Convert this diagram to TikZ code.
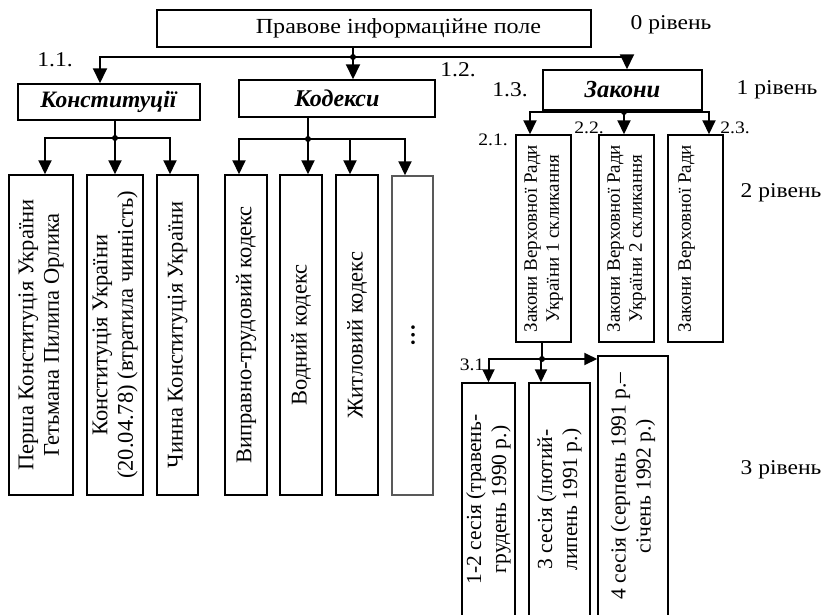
\documentclass[tikz,border=0pt]{standalone}
\usepackage{fontspec}
\setmainfont{Liberation Serif}
\newfontfamily\widefont[FakeStretch=1.12]{Liberation Serif}
\usetikzlibrary{arrows.meta,calc}
\begin{document}
\begin{tikzpicture}[x=1pt,y=-1pt,
  font=\fontsize{22.5}{25.5}\selectfont,
  box/.style={draw, line width=1.5pt, inner sep=0pt, align=center},
  vbox/.style={box, rotate=90},
  hfont/.style={font=\widefont\fontsize{21.5}{24}\selectfont},
  zfont/.style={font=\fontsize{19}{22}\selectfont},
  sfont/.style={font=\fontsize{21.5}{25}\selectfont},
  conn/.style={line width=2pt},
  arrA/.style={conn, -{Triangle[width=14pt,length=15pt]}},
  arrB/.style={conn, -{Triangle[width=13pt,length=14pt]}},
  arrC/.style={conn, -{Triangle[width=12pt,length=13pt]}},
  dot/.style={circle, fill, inner sep=0pt, minimum size=6pt},
  lbl/.style={inner sep=0pt, font=\widefont\fontsize{21}{24}\selectfont},
  small/.style={inner sep=0pt, font=\widefont\fontsize{17.5}{20}\selectfont}]
\useasboundingbox (0,0) rectangle (828,614);
\clip (0,0) rectangle (828,614);

% level 0
\node[box, hfont, minimum width=434pt, minimum height=37pt] (top) at (374,28.5) {\hspace*{49pt}Правове інформаційне поле};
% level 1
\node[box, font=\fontsize{23.5}{26}\selectfont, minimum width=182pt, minimum height=36pt] (konst) at (109,102) {\textbf{\textit{Конституції}}};
\node[box, font=\fontsize{24}{27}\selectfont, minimum width=196pt, minimum height=37pt] (kod) at (337,98.5) {\textbf{\textit{Кодекси}}};
\node[box, font=\fontsize{24.5}{27}\selectfont, minimum width=159pt, minimum height=40pt] (zak) at (622.5,90) {\textbf{\textit{Закони}}};
% level 2 (constitutions)
\node[vbox, minimum width=320pt, minimum height=64pt] (c1) at (41,335) {Перша Конституція України\\Гетьмана Пилипа Орлика};
\node[vbox, minimum width=320pt, minimum height=56pt] (c2) at (115,335) {Конституція України\\(20.04.78) (втратила чинність)};
\node[vbox, minimum width=320pt, minimum height=41pt] (c3) at (177.5,335) {Чинна Конституція України};
% level 2 (codes)
\node[vbox, minimum width=320pt, minimum height=42pt] (k1) at (246,335) {Виправно-трудовий кодекс};
\node[vbox, minimum width=320pt, minimum height=42pt] (k2) at (301,335) {Водний кодекс};
\node[vbox, minimum width=320pt, minimum height=42pt] (k3) at (357,335) {Житловий кодекс};
\node[vbox, draw=black!65, minimum width=319pt, minimum height=41pt] (k4) at (412.5,335.5) {\raisebox{-4.5pt}{\textbf{…}}};
% level 2 (laws)
\node[vbox, zfont, minimum width=207pt, minimum height=55pt] (z1) at (543.5,238.5) {Закони Верховної Ради\\України 1 скликання};
\node[vbox, zfont, minimum width=207pt, minimum height=55pt] (z2) at (626.5,238.5) {Закони Верховної Ради\\України 2 скликання};
\node[vbox, zfont, minimum width=207pt, minimum height=55pt] (z3) at (695.5,238.5) {Закони Верховної Ради\\\mbox{}};
% level 3
\node[vbox, sfont, minimum width=233pt, minimum height=53pt] (s1) at (488.5,499.5) {1-2 сесія (травень-\\грудень 1990 р.)};
\node[vbox, sfont, minimum width=233pt, minimum height=61pt] (s2) at (559.5,499.5) {3 сесія (лютий-\\липень 1991 р.)};
\node[vbox, sfont, minimum width=260pt, minimum height=70pt] (s3) at (633,486) {4 сесія (серпень 1991 р.–\\січень 1992 р.)};

% junctions
\node[dot] (j0) at (353,57) {};
\node[dot] (j1) at (115,138) {};
\node[dot] (j2) at (308,139) {};
\node[dot] (j3) at (624,112) {};
\node[dot] (j4) at (542,359) {};

% connectors level 0 -> 1
\draw[conn] (top.south -| j0) -- (j0.center);
\draw[arrA] (j0.center) -| ([xshift=-9pt]konst.north);
\draw[arrA] (j0.center) -- (kod.north -| j0);
\draw[arrA] (j0.center) -| ([xshift=4.5pt]zak.north);
% constitutions
\draw[conn] (konst.south -| j1) -- (j1.center);
\draw[arrB] (j1.center) -| ([xshift=4pt]c1.east);
\draw[arrB] (j1.center) -- (c2.east);
\draw[arrB] (j1.center) -| ([xshift=-7.5pt]c3.east);
% codes
\draw[conn] (kod.south -| j2) -- (j2.center);
\draw[arrB] (j2.center) -| ([xshift=-7pt]k1.east);
\draw[arrB] (j2.center) -| ([xshift=7pt]k2.east);
\draw[arrB] (j2.center) -| ([xshift=-7pt]k3.east);
\draw[arrB] (j2.center) -| ([xshift=-7.5pt]k4.east);
% laws
\draw[conn] (zak.south -| j3) -- (j3.center);
\draw[arrB] (j3.center) -| ([xshift=-13.5pt]z1.east);
\draw[arrB] (j3.center) -| ([xshift=-2.5pt]z2.east);
\draw[arrB] (j3.center) -| ([xshift=13.5pt]z3.east);
% sessions
\draw[conn] (z1.west -| j4) -- (j4.center);
\draw[arrC] (j4.center) -| (s1.east);
\draw[arrC] (j4.center) -| ([xshift=-18.5pt]s2.east);
\draw[arrC] (j4.center) -- (j4 -| s3.north);

% labels
\node[lbl] (l0) at (671,25) {0 рівень};
\node[lbl] (l1) at (777,90) {1 рівень};
\node[lbl] (l2) at (781,193) {2 рівень};
\node[lbl] (l3) at (781,470) {3 рівень};
\node[lbl] (n11) at (55,60) {1.1.};
\node[lbl] (n12) at (458,70) {1.2.};
\node[lbl] (n13) at (510,90) {1.3.};
\node[small] (n21) at (493,140) {2.1.};
\node[small] (n22) at (589,128) {2.2.};
\node[small] (n23) at (735,128) {2.3.};
\node[small] (n31) at (472,365) {3.1};
\end{tikzpicture}
\end{document}
